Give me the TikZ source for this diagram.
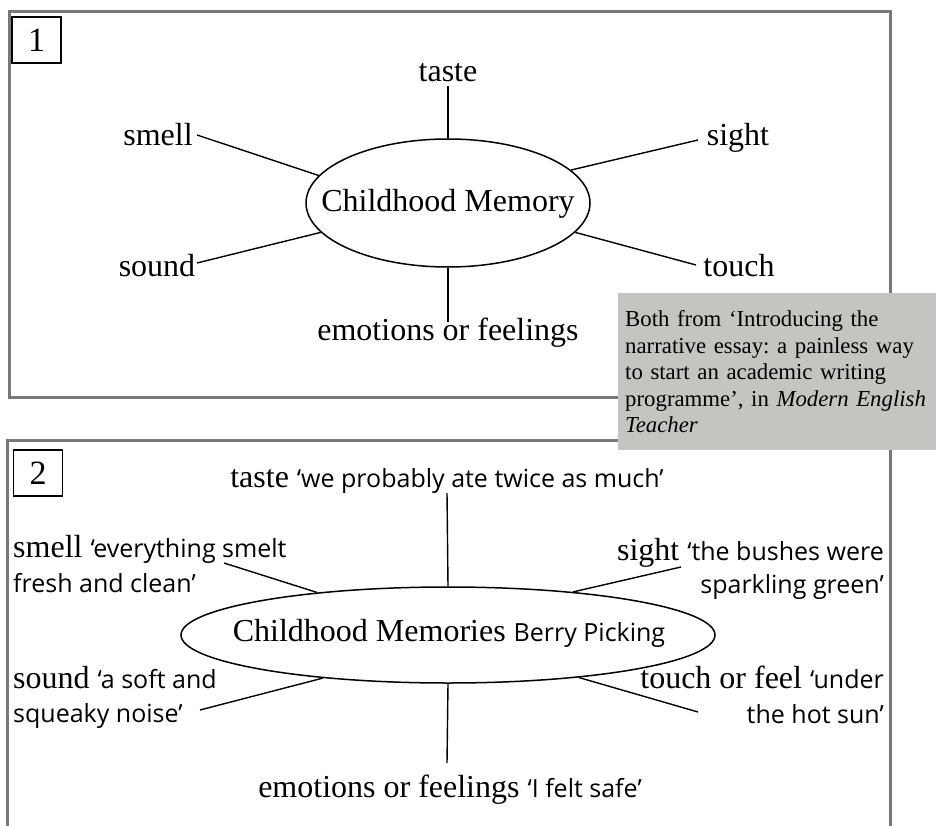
\documentclass[tikz,border=0pt]{standalone}
\usepackage{fontspec}
\setmainfont{Liberation Serif}
\newfontfamily\hand{Open Sans}
\usetikzlibrary{shapes.geometric}
\definecolor{framegray}{RGB}{120,120,120}
\definecolor{notegray}{RGB}{196,196,192}
\newcommand{\hq}[1]{{\hand\fontsize{25}{28}\selectfont #1}}
\begin{document}
\begin{tikzpicture}[x=1pt,y=-1pt,
  frame/.style={draw=framegray,line width=3pt},
  numbox/.style={draw,line width=1.3pt,minimum width=49pt,minimum height=46pt,inner sep=0pt,font=\fontsize{34}{34}\selectfont},
  hub/.style={draw,ellipse,line width=1.5pt,inner sep=0pt},
  lab/.style={inner sep=0pt,font=\fontsize{32}{36}\selectfont},
  spoke/.style={line width=1.4pt},
  note/.style={fill=notegray,anchor=north west,text width=315pt,align=left,inner xsep=7pt,inner ysep=17pt,minimum height=157pt,font=\fontsize{22.8}{26.5}\selectfont\frenchspacing}
]
\useasboundingbox (0,0) rectangle (936,826);
\clip (0,0) rectangle (936,826);
\fill[white] (0,0) rectangle (936,826);

% ---------- panel 1 ----------
\draw[frame] (9,12) rectangle (890,397);
\node[numbox] (n1) at (36.5,40) {1};
\node[hub,minimum width=284pt,minimum height=128pt] (e1) at (448,203) {};
\node[lab,anchor=base] (m1) at (448,212) {Childhood Memory};
\node[lab,anchor=base] (taste1) at (448,82) {taste};
\node[lab,anchor=base] (smell1) at (158,146) {smell};
\node[lab,anchor=base] (sight1) at (738,146) {sight};
\node[lab,anchor=base] (sound1) at (157,276) {sound};
\node[lab,anchor=base] (touch1) at (739,276) {touch};
\node[lab,anchor=base] (emo1) at (448,340) {emotions or feelings};
\coordinate (t1) at (448,86);
\coordinate (sm1) at (197,135);
\coordinate (si1) at (698,140);
\coordinate (so1) at (197,263);
\coordinate (to1) at (696,265);
\coordinate (em1) at (448,322);
\draw[spoke] (t1) -- (e1.north);
\draw[spoke] (sm1) -- (e1.168);
\draw[spoke] (si1) -- (e1.15);
\draw[spoke] (so1) -- (e1.193);
\draw[spoke] (to1) -- (e1.347.5);
\draw[spoke] (e1.south) -- (em1);

% ---------- panel 2 ----------
\draw[frame] (7,440) rectangle (890,900);
\node[numbox] (n2) at (38,473) {2};
\node[hub,minimum width=534pt,minimum height=96pt] (e2) at (448,635) {};
\node[lab,anchor=base] (m2) at (449,641) {Childhood Memories \hq{Berry Picking}};
\node[lab,anchor=base] (taste2) at (447,487) {taste \hq{‘we probably ate twice as much’}};
\node[lab,anchor=base west] (smell2a) at (13,557) {smell \hq{‘everything smelt}};
\node[lab,anchor=base west] (smell2b) at (13,592) {\hq{fresh and clean’}};
\node[lab,anchor=base east] (sight2a) at (884,560) {sight \hq{‘the bushes were}};
\node[lab,anchor=base east] (sight2b) at (884,593) {\hq{sparkling green’}};
\node[lab,anchor=base west] (sound2a) at (13,688) {sound \hq{‘a soft and}};
\node[lab,anchor=base west] (sound2b) at (13,722) {\hq{squeaky noise’}};
\node[lab,anchor=base east] (touch2a) at (884,688) {touch or feel \hq{‘under}};
\node[lab,anchor=base east] (touch2b) at (884,723) {\hq{the hot sun’}};
\node[lab,anchor=base] (emo2) at (450,797) {emotions or feelings \hq{‘I felt safe’}};
\coordinate (t2) at (447,493);
\coordinate (sm2) at (224,563);
\coordinate (si2) at (681,567);
\coordinate (so2) at (200,710);
\coordinate (to2) at (698,712);
\coordinate (em2) at (447,763);
\draw[spoke] (t2) -- (e2.north);
\draw[spoke] (sm2) -- (e2.162);
\draw[spoke] (si2) -- (e2.19);
\draw[spoke] (so2) -- (e2.199);
\draw[spoke] (to2) -- (e2.342);
\draw[spoke] (e2.south) -- (em2);

% ---------- source note ----------
\node[note] (src) at (618,293) {Both from ‘Introducing the\\narrative essay: a painless way\\to start an academic writing\\programme’, in \textit{Modern English}\\\textit{Teacher}};
\end{tikzpicture}
\end{document}
